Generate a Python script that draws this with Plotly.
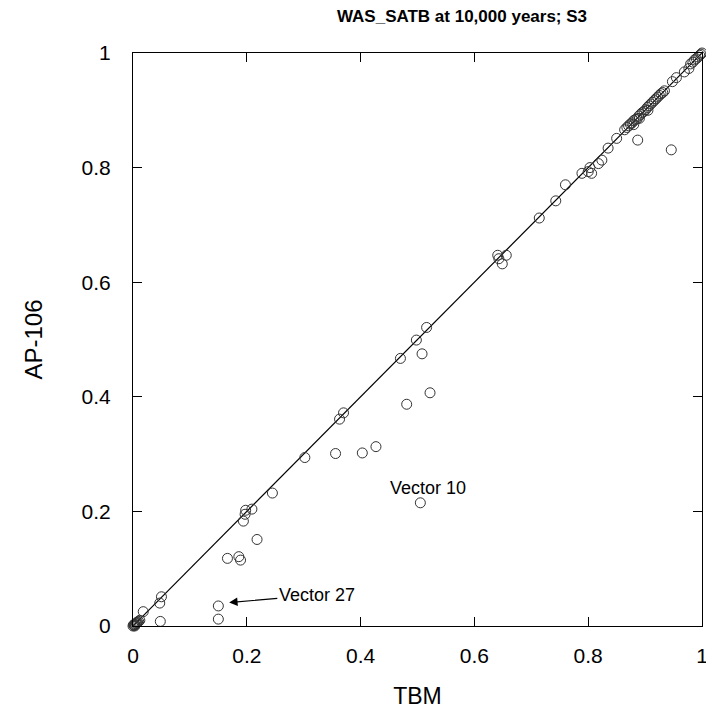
import plotly.graph_objects as go

# TBM (x) vs AP-106 (y) values
tbm = [0.000, 0.002, 0.003, 0.004, 0.005, 0.006, 0.007, 0.008, 0.010, 0.012, 0.001, 0.003, 0.018,
       0.048, 0.050, 0.047,
       0.150, 0.150,
       0.166, 0.186, 0.189, 0.218,
       0.194, 0.198, 0.209, 0.197,
       0.245, 0.302, 0.356, 0.403, 0.427, 0.363, 0.370,
       0.481, 0.522, 0.470, 0.508, 0.498, 0.516, 0.505,
       0.641, 0.656, 0.649, 0.643,
       0.714, 0.743, 0.760,
       0.789, 0.800, 0.806, 0.803, 0.818, 0.824, 0.835, 0.850,
       0.887, 0.946,
       0.864, 0.868, 0.871, 0.874, 0.877, 0.880, 0.883, 0.886, 0.889, 0.892, 0.895, 0.898,
       0.901, 0.904, 0.907, 0.910, 0.913, 0.916, 0.919, 0.922, 0.925, 0.928, 0.931, 0.934,
       0.880, 0.890, 0.905,
       0.948, 0.955, 0.969, 0.977,
       0.980, 0.984, 0.987, 0.990, 0.993, 0.996, 0.998, 1.000]
ap106 = [0.000, 0.001, 0.003, 0.002, 0.004, 0.005, 0.006, 0.007, 0.008, 0.010, 0.002, 0.000, 0.025,
         0.008, 0.051, 0.040,
         0.035, 0.012,
         0.118, 0.121, 0.115, 0.151,
         0.183, 0.202, 0.204, 0.195,
         0.232, 0.294, 0.301, 0.302, 0.313, 0.361, 0.372,
         0.387, 0.407, 0.467, 0.475, 0.499, 0.521, 0.215,
         0.647, 0.647, 0.632, 0.641,
         0.712, 0.742, 0.770,
         0.790, 0.793, 0.790, 0.800, 0.807, 0.813, 0.834, 0.851,
         0.848, 0.831,
         0.866, 0.870, 0.873, 0.876, 0.878, 0.882, 0.884, 0.885, 0.890, 0.893, 0.896, 0.898,
         0.901, 0.905, 0.908, 0.911, 0.914, 0.917, 0.920, 0.923, 0.926, 0.929, 0.931, 0.934,
         0.875, 0.886, 0.900,
         0.950, 0.957, 0.967, 0.973,
         0.981, 0.984, 0.988, 0.990, 0.993, 0.996, 0.998, 1.000]

line_x = [0, 1]
line_y = [0, 1]
tick_vals = [0, 0.2, 0.4, 0.6, 0.8, 1]
tick_text = ["0", "0.2", "0.4", "0.6", "0.8", "1"]

FONT = "Liberation Sans, Arial, sans-serif"

# the page body has an 8px default margin, so the figure is sized to fit
FIG_W, FIG_H = 706, 709

fig = go.Figure()
fig.add_trace(go.Scatter(x=line_x, y=line_y, mode="lines",
                         line=dict(color="black", width=1.2), showlegend=False,
                         hoverinfo="skip"))
fig.add_trace(go.Scatter(x=tbm, y=ap106, mode="markers",
                         marker=dict(symbol="circle-open", size=10,
                                     color="#333333", line=dict(width=1)),
                         showlegend=False, cliponaxis=False))

fig.add_annotation(x=0.518, y=0.241, text="Vector 10", showarrow=False,
                   font=dict(family=FONT, size=18, color="black"))
fig.add_annotation(x=0.169, y=0.041, ax=0.323, ay=0.054, axref="x", ayref="y",
                   text="Vector 27", showarrow=True, arrowhead=2, arrowsize=1.4,
                   arrowwidth=1.2, arrowcolor="black",
                   font=dict(family=FONT, size=18, color="black"))

axis_common = dict(range=[0, 1], tickvals=tick_vals, ticktext=tick_text,
                   ticks="inside", ticklen=9, tickwidth=1, tickcolor="black",
                   showline=True, linecolor="black", linewidth=1, mirror="ticks",
                   showgrid=False, zeroline=False,
                   tickfont=dict(family=FONT, size=21, color="black"))

fig.update_layout(
    width=FIG_W, height=FIG_H,
    margin=dict(l=125, r=6, t=45, b=91),
    paper_bgcolor="white", plot_bgcolor="white",
    title=dict(text="<b>WAS_SATB at 10,000 years; S3</b>", x=454 / FIG_W, xanchor="center",
               y=1 - 8 / FIG_H, yanchor="middle",
               font=dict(family=FONT, size=17, color="black")),
    xaxis=dict(**axis_common, ticklabelstandoff=11,
               title=dict(text="TBM", standoff=21,
                          font=dict(family=FONT, size=23, color="black"))),
    yaxis=dict(**axis_common, ticklabelstandoff=17,
               title=dict(text="AP-106", standoff=32,
                          font=dict(family=FONT, size=24, color="black"))),
)

fig.write_html("out.html")
